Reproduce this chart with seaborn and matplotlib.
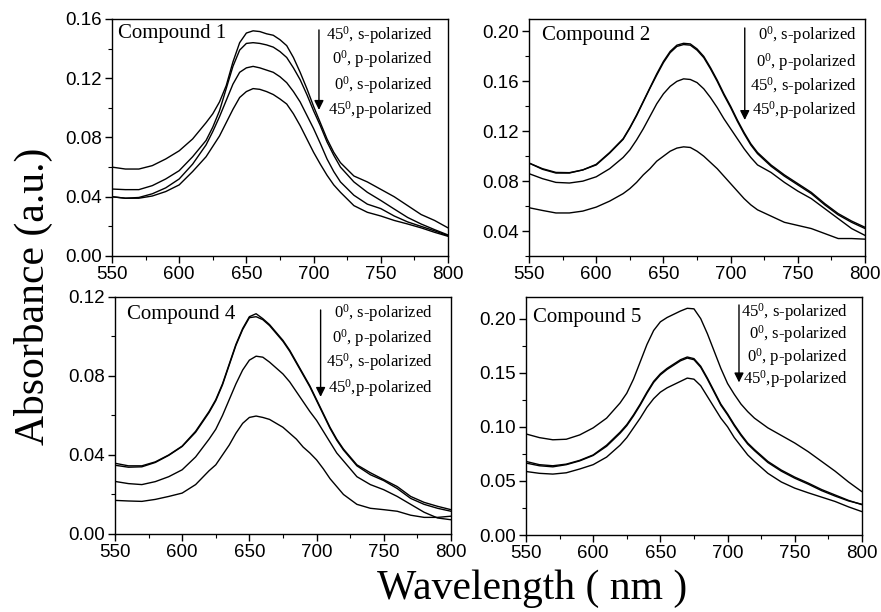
import numpy as np
import pandas as pd
import matplotlib
matplotlib.use("Agg")
import matplotlib.pyplot as plt
from matplotlib.ticker import MultipleLocator, FormatStrFormatter
import seaborn as sns

# ---------------- data ----------------
wavelength = [550, 560, 570, 580, 590, 600, 610,
              620, 625, 630, 635, 640, 645, 650, 655, 660, 665, 670, 675,
              680, 685, 690, 695, 700, 705, 710, 715, 720,
              730, 740, 750, 760, 770, 780, 790, 800]

# Compound 1
c1_45s = [.060, .0587, .0587, .061, .0655, .071, .079,
          .090, .096, .104, .115, .131, .144, .1505, .152, .1515, .150, .149, .146,
          .142, .134, .124, .113, .101, .090, .079, .070, .063,
          .054, .050, .045, .040, .034, .028, .024, .019]
c1_0p = [.0452, .0448, .0448, .0475, .052, .0576, .067,
         .078, .087, .098, .113, .128, .139, .1435, .144, .1435, .1425, .141, .138,
         .134, .127, .119, .109, .098, .088, .077, .068, .060,
         .050, .043, .0375, .0317, .026, .0216, .0178, .0142]
c1_0s = [.040, .039, .0395, .042, .046, .052, .062,
         .075, .084, .094, .105, .116, .124, .127, .128, .127, .1255, .124, .121,
         .117, .111, .104, .095, .086, .076, .0655, .057, .050,
         .041, .035, .032, .027, .023, .020, .017, .0137]
c1_45p = [.040, .039, .039, .0405, .0435, .048, .057,
          .067, .074, .081, .090, .099, .107, .111, .113, .1125, .111, .109, .106,
          .1026, .096, .088, .079, .070, .062, .0545, .048, .043,
          .034, .0295, .027, .024, .0216, .019, .016, .0133]

# Compound 2
c2_0s = [.0945, .090, .087, .0868, .089, .0935, .103,
         .114, .123, .133, .144, .155, .166, .176, .184, .189, .1905, .190, .186,
         .180, .171, .161, .150, .140, .129, .119, .110, .103,
         .093, .085, .078, .071, .062, .054, .048, .043]
c2_0p = [.0945, .0895, .0865, .0865, .089, .093, .1025,
         .1135, .1225, .1325, .1435, .1545, .165, .175, .183, .188, .1895, .189, .185,
         .179, .170, .160, .149, .139, .128, .118, .109, .102,
         .092, .084, .077, .070, .061, .053, .047, .042]
c2_45s = [.086, .082, .079, .0785, .080, .0835, .090,
          .099, .105, .113, .122, .132, .142, .150, .156, .160, .162, .1615, .159,
          .154, .147, .139, .130, .122, .114, .106, .099, .093,
          .087, .079, .072, .066, .058, .050, .042, .0365]
c2_45p = [.0587, .0565, .0545, .0545, .056, .0592, .064,
          .070, .074, .079, .085, .090, .096, .100, .104, .1065, .1075, .107, .104,
          .100, .095, .090, .084, .078, .072, .066, .061, .057,
          .052, .047, .0445, .042, .038, .034, .034, .0335]

# Compound 4
c4_0s = [.0358, .0345, .0345, .0365, .040, .0445, .052,
         .062, .068, .076, .086, .096, .104, .110, .1115, .109, .106, .102, .098,
         .093, .087, .081, .075, .068, .061, .054, .048, .043,
         .035, .031, .0275, .024, .019, .016, .014, .0123]
c4_0p = [.0348, .0338, .034, .0362, .0398, .0443, .0515,
         .0615, .0675, .0755, .0855, .0955, .1035, .1095, .110, .1085, .1055, .1015, .0975,
         .0925, .0865, .0805, .0745, .0675, .0605, .0535, .0475, .0425,
         .0345, .030, .027, .023, .018, .015, .013, .0115]
c4_45s = [.0266, .0255, .025, .0265, .029, .0325, .039,
          .048, .053, .060, .068, .076, .083, .088, .090, .0895, .087, .084, .081,
          .077, .072, .067, .062, .0575, .052, .0465, .041, .037,
          .029, .025, .0224, .019, .015, .011, .0081, .0072]
c4_45p = [.017, .0167, .0165, .0175, .019, .0207, .025,
          .032, .035, .040, .045, .051, .056, .059, .0597, .059, .058, .056, .054,
          .051, .048, .044, .041, .0375, .033, .028, .024, .020,
          .015, .013, .0123, .0115, .0095, .0084, .0084, .009]

# Compound 5
c5_45s = [.0934, .090, .088, .0885, .0925, .099, .108,
          .122, .131, .144, .160, .176, .189, .197, .201, .204, .207, .2095, .209,
          .200, .186, .170, .154, .140, .130, .121, .114, .108,
          .099, .092, .085, .077, .068, .059, .049, .040]
c5_0s = [.068, .065, .064, .0655, .069, .074, .083,
         .095, .102, .111, .121, .132, .142, .149, .154, .158, .162, .1645, .163,
         .156, .145, .133, .121, .112, .102, .093, .085, .079,
         .068, .060, .0535, .048, .042, .037, .032, .028]
c5_0p = [.0665, .064, .063, .065, .0685, .0735, .082,
         .094, .101, .110, .120, .131, .141, .148, .153, .157, .161, .1635, .162,
         .155, .144, .132, .120, .111, .101, .092, .084, .078,
         .067, .059, .0525, .047, .041, .036, .0315, .0284]
c5_45p = [.0587, .057, .0563, .0575, .061, .065, .072,
          .083, .090, .099, .108, .118, .126, .132, .136, .139, .142, .145, .144,
          .138, .128, .118, .108, .100, .090, .082, .074, .068,
          .057, .049, .0433, .039, .035, .031, .026, .0216]

SUP0 = r"$^\mathrm{0}$"
lab_45s = "45" + SUP0 + ", s-polarized"
lab_45p = "45" + SUP0 + ",p-polarized"
lab_0s = "0" + SUP0 + ", s-polarized"
lab_0p = "0" + SUP0 + ", p-polarized"

panels = [
    dict(title="Compound 1", series=[(lab_45s, c1_45s), (lab_0p, c1_0p), (lab_0s, c1_0s), (lab_45p, c1_45p)],
         ylim=(0.0, 0.16), major=0.04, minor=0.02,
         rect=[0.1271, 0.5817, 0.3814, 0.3873],
         arrow=(704, 0.1526, 0.0986), tx=0.955, ty=[0.932, 0.831, 0.722, 0.616],
         title_pos=(0.018, 0.94)),
    dict(title="Compound 2", series=[(lab_0s, c2_0s), (lab_0p, c2_0p), (lab_45s, c2_45s), (lab_45p, c2_45p)],
         ylim=(0.02, 0.21), major=0.04, minor=0.02,
         rect=[0.6005, 0.5817, 0.3814, 0.3873],
         arrow=(710.5, 0.2028, 0.129), tx=0.976, ty=[0.932, 0.818, 0.717, 0.616],
         title_pos=(0.039, 0.932)),
    dict(title="Compound 4", series=[(lab_0s, c4_0s), (lab_0p, c4_0p), (lab_45s, c4_45s), (lab_45p, c4_45p)],
         ylim=(0.0, 0.12), major=0.04, minor=0.02,
         rect=[0.1305, 0.1275, 0.3814, 0.3873],
         arrow=(703, 0.1134, 0.0694), tx=0.946, ty=[0.932, 0.827, 0.726, 0.616],
         title_pos=(0.036, 0.924)),
    dict(title="Compound 5", series=[(lab_45s, c5_45s), (lab_0s, c5_0s), (lab_0p, c5_0p), (lab_45p, c5_45p)],
         ylim=(0.0, 0.22), major=0.05, minor=0.025,
         rect=[0.597, 0.1258, 0.3814, 0.3890],
         arrow=(708.5, 0.2126, 0.141), tx=0.958, ty=[0.937, 0.844, 0.747, 0.654],
         title_pos=(0.021, 0.915)),
]

sns.set_theme(style="ticks")
plt.rcParams["font.family"] = ["Liberation Serif", "DejaVu Serif"]
plt.rcParams["mathtext.fontset"] = "custom"
plt.rcParams["mathtext.rm"] = "Liberation Serif"
plt.rcParams["mathtext.it"] = "Liberation Serif:italic"
plt.rcParams["axes.linewidth"] = 1.0

fig = plt.figure(figsize=(8.81, 6.12), dpi=100)
fig.patch.set_facecolor("white")

for p in panels:
    ax = fig.add_axes(p["rect"])
    rows = []
    for lab, vals in p["series"]:
        for w, v in zip(wavelength, vals):
            rows.append({"Wavelength": w, "Absorbance": v, "Series": lab})
    df = pd.DataFrame(rows)
    sns.lineplot(data=df, x="Wavelength", y="Absorbance", hue="Series",
                 palette=["black"] * 4, legend=False, linewidth=1.0, ax=ax,
                 estimator=None, sort=True)
    ax.set_xlim(550, 800)
    ax.set_ylim(*p["ylim"])
    ax.xaxis.set_major_locator(MultipleLocator(50))
    ax.xaxis.set_minor_locator(MultipleLocator(25))
    ax.yaxis.set_major_locator(MultipleLocator(p["major"]))
    ax.yaxis.set_minor_locator(MultipleLocator(p["minor"]))
    ax.yaxis.set_major_formatter(FormatStrFormatter("%.2f"))
    ax.set_xlabel("")
    ax.set_ylabel("")
    for s in ax.spines.values():
        s.set_visible(True)
        s.set_color("black")
        s.set_linewidth(1.0)
    ax.tick_params(which="major", direction="out", length=5, width=1, colors="black",
                   labelsize=13.5, pad=2)
    ax.tick_params(which="minor", direction="out", length=3, width=0.8, colors="black")
    for lbl in ax.get_xticklabels() + ax.get_yticklabels():
        lbl.set_family(["Liberation Sans", "DejaVu Sans"])
    ax.set_facecolor("white")
    ax.text(p["title_pos"][0], p["title_pos"][1], p["title"], transform=ax.transAxes,
            fontsize=15, ha="left", va="center", color="black")
    for lab_y, (lab, _) in zip(p["ty"], p["series"]):
        ax.text(p["tx"], lab_y, lab, transform=ax.transAxes, fontsize=12,
                ha="right", va="center", color="black")
    ax_x, y0, y1 = p["arrow"]
    ax.annotate("", xy=(ax_x, y1), xytext=(ax_x, y0),
                arrowprops=dict(arrowstyle="-|>", color="black", lw=1.0, mutation_scale=14,
                                shrinkA=0, shrinkB=0))

fig.text(0.0375, 0.516, "Absorbance (a.u.)", rotation=90, ha="center", va="center",
         fontsize=30, color="black")
fig.text(0.604, 0.038, "Wavelength ( nm )", ha="center", va="center",
         fontsize=30, color="black")

fig.savefig("out.png", dpi=100, facecolor="white")
